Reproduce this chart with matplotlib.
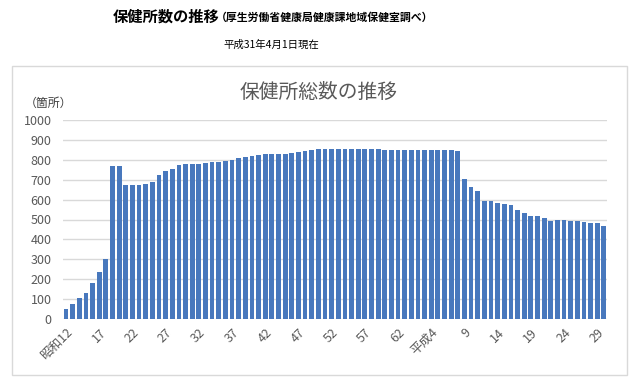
import matplotlib
matplotlib.use("Agg")
import matplotlib.pyplot as plt
from matplotlib.patches import Rectangle

plt.rcParams['font.family'] = ['Noto Sans CJK JP', 'DejaVu Sans']

# Data: number of public health centers, 1937 (Showa 12) - 2018 (Heisei 30)
years = list(range(1937, 2019))
counts = [
    49, 74, 104, 131, 183, 236, 303, 770, 770, 673,
    673, 673, 677, 690, 724, 744, 755, 772, 777, 777,
    777, 782, 787, 791, 794, 801, 807, 816, 821, 824,
    828, 829, 829, 829, 832, 839, 844, 851, 853, 855,
    855, 855, 854, 852, 852, 852, 852, 852, 850, 850,
    851, 850, 848, 850, 851, 851, 848, 848, 848, 845,
    706, 663, 641, 594, 592, 582, 576, 571, 549, 535,
    518, 517, 510, 494, 495, 495, 494, 490, 486, 480,
    481, 469,
]
tick_labels = ['昭和12', '17', '22', '27', '32', '37', '42', '47', '52',
               '57', '62', '平成4', '9', '14', '19', '24', '29']
y_ticks = [0, 100, 200, 300, 400, 500, 600, 700, 800, 900, 1000]

W, H = 640, 381
fig = plt.figure(figsize=(W / 100, H / 100), dpi=100)
fig.patch.set_facecolor('white')

# outer chart box
fig.patches.append(Rectangle((12 / W, 6 / H), (627 - 12) / W, (375 - 66) / H,
                             transform=fig.transFigure, fill=False,
                             edgecolor='#d9d9d9', linewidth=1.0))

ax = fig.add_axes([62.7 / W, 62 / H, 544.5 / W, 199 / H])
x = list(range(len(counts)))
ax.bar(x, counts, width=0.72, color='#4878bd', edgecolor='none', zorder=3)
ax.set_xlim(-0.5, len(counts) - 0.5)
ax.set_ylim(0, 1000)
ax.set_yticks(y_ticks)
ax.set_yticklabels([str(v) for v in y_ticks], fontsize=9, color='#595959')
ax.set_xticks(x[::5])
ax.set_xticklabels(tick_labels, fontsize=9, color='#595959', rotation=45,
                   ha='right', va='top', rotation_mode='anchor')
ax.tick_params(axis='both', length=0)
ax.tick_params(axis='y', pad=8)
ax.tick_params(axis='x', pad=5)
ax.grid(axis='y', color='#d9d9d9', linewidth=1.0, zorder=0)
for s in ax.spines.values():
    s.set_visible(False)

# titles
fig.text(113 / W, 1 - 17 / H, '保健所数の推移', fontsize=11, fontweight='bold',
         ha='left', va='center', color='black')
fig.text(216 / W, 1 - 17 / H, '（厚生労働省健康局健康課地域保健室調べ）', fontsize=7.8,
         fontweight='bold', ha='left', va='center', color='black')
fig.text(271 / W, 1 - 45 / H, '平成31年4月1日現在', fontsize=7.5,
         ha='center', va='center', color='black')
fig.text(319 / W, 1 - 92 / H, '保健所総数の推移', fontsize=14.2,
         ha='center', va='center', color='#595959')
fig.text(25 / W, 1 - 103 / H, '（箇所）', fontsize=8.6,
         ha='left', va='center', color='#404040')

fig.savefig('out.png', dpi=100)
